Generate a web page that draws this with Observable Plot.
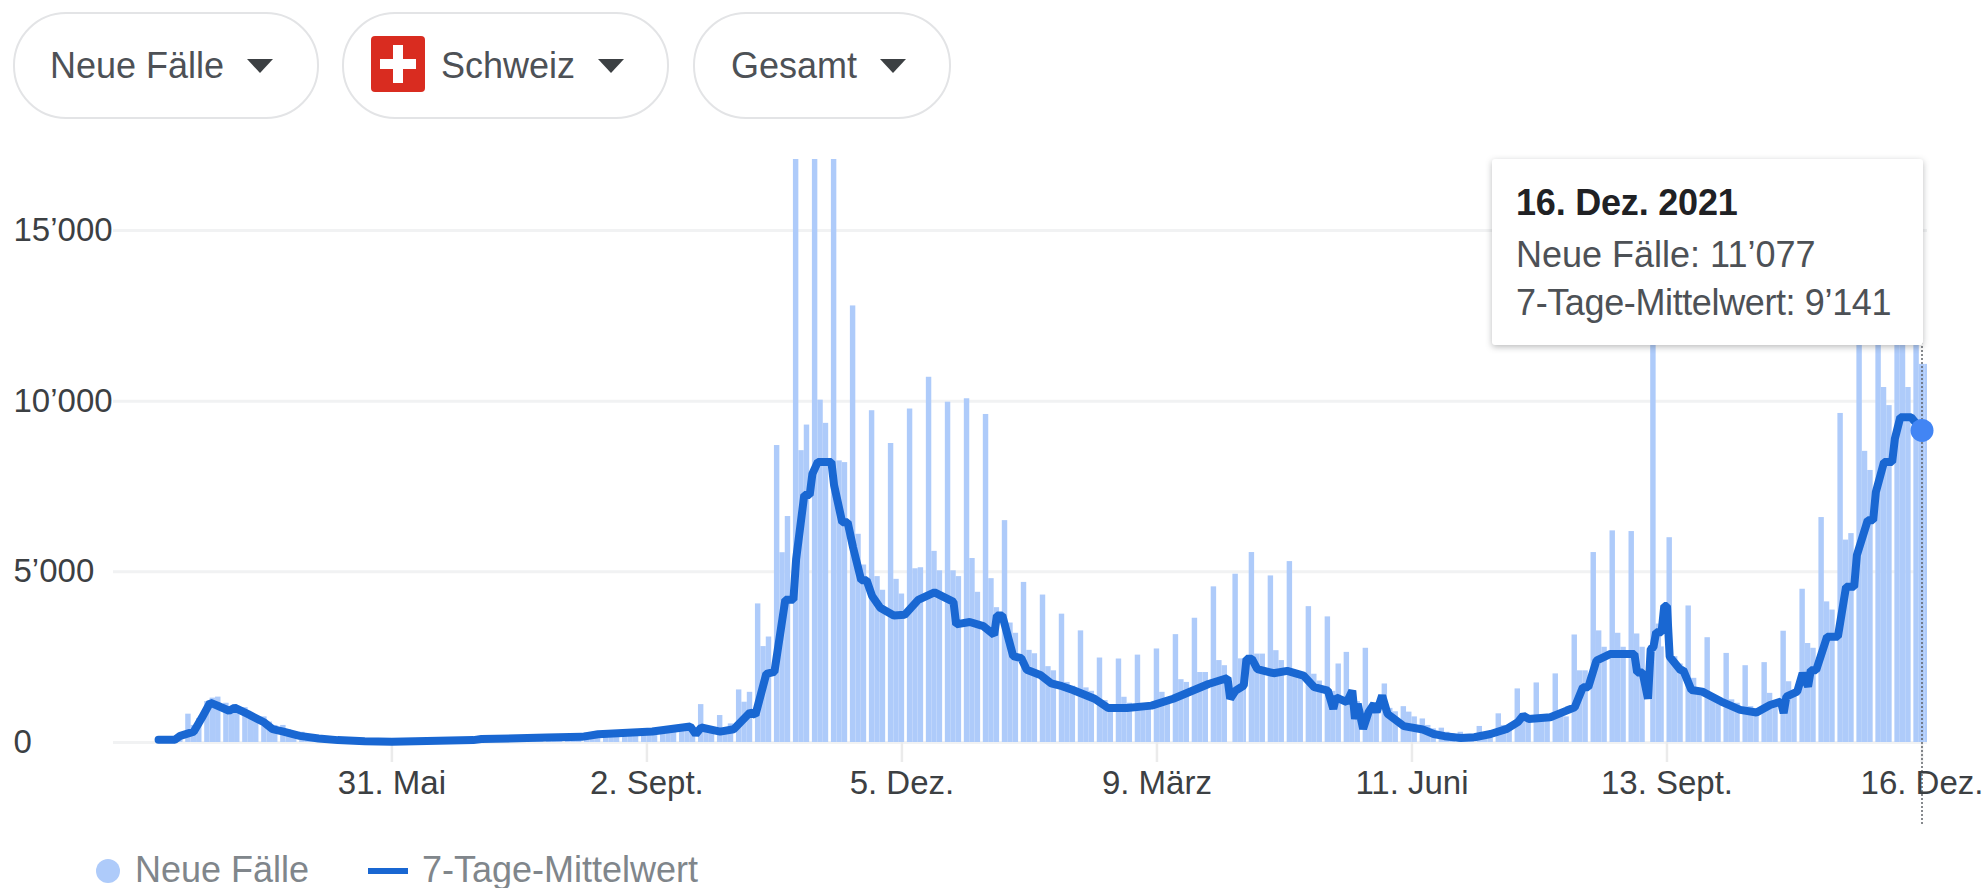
<!DOCTYPE html>
<html lang="de">
<head>
<meta charset="utf-8">
<script src="https://cdn.jsdelivr.net/npm/d3@7"></script>
<script src="https://cdn.jsdelivr.net/npm/@observablehq/plot@0.6"></script>
<style>
html,body{margin:0;padding:0;background:#fff;width:1986px;height:888px;overflow:hidden;font-family:"Liberation Sans",Arial,sans-serif;}
#chart{position:absolute;left:0;top:0;}
.pill{position:absolute;top:12px;height:103px;border:2px solid #e3e4e6;border-radius:53px;background:#fff;box-sizing:content-box;}
.pill span{position:absolute;top:0;line-height:103px;font-size:36px;color:#4d5156;white-space:nowrap;}
.arrow{position:absolute;top:45px;width:0;height:0;border-left:13px solid transparent;border-right:13px solid transparent;border-top:14px solid #3c4043;}
.flag{position:absolute;left:27px;top:22px;width:54px;height:56px;border-radius:4px;background:#d92c20;}
.flag i{position:absolute;background:#fff;}
#tip{position:absolute;left:1492px;top:159px;width:431px;height:186px;background:#fff;border-radius:3px;box-shadow:0 2px 6px rgba(60,64,67,.35);font-size:36px;color:#4d5156;}
#tip div{position:absolute;left:24px;white-space:nowrap;line-height:40px;}
#tip .h{top:24px;font-weight:bold;color:#202124;letter-spacing:-.2px;}
.leg{position:absolute;top:849px;line-height:42px;font-size:36px;color:#80868b;white-space:nowrap;}
.swdot{position:absolute;left:96px;top:859px;width:24px;height:24px;border-radius:50%;background:#aecbfa;}
.swline{position:absolute;left:368px;top:868px;width:40px;height:6px;background:#1967d2;}
</style>
</head>
<body>
<div id="chart"></div>
<div class="pill" style="left:13px;width:302px"><span style="left:35px">Neue Fälle</span><div class="arrow" style="left:232px"></div></div>
<div class="pill" style="left:342px;width:323px"><div class="flag"><i style="left:22px;top:9px;width:10px;height:38px"></i><i style="left:9px;top:23px;width:36px;height:10px"></i></div><span style="left:97px">Schweiz</span><div class="arrow" style="left:254px"></div></div>
<div class="pill" style="left:693px;width:254px"><span style="left:36px">Gesamt</span><div class="arrow" style="left:185px"></div></div>
<div id="tip"><div class="h">16. Dez. 2021</div><div style="top:76px">Neue Fälle: 11’077</div><div style="top:124px;letter-spacing:-.38px">7-Tage-Mittelwert: 9’141</div></div>
<div class="swdot"></div><div class="leg" style="left:135px">Neue Fälle</div>
<div class="swline"></div><div class="leg" style="left:422px">7-Tage-Mittelwert</div>
<script>
const tickDates = ["2020-05-31","2020-09-02","2020-12-05","2021-03-09","2021-06-11","2021-09-13","2021-12-16"];
const tickLabels = ["31. Mai","2. Sept.","5. Dez.","9. März","11. Juni","13. Sept.","16. Dez."];
const yTicks = [0,5000,10000,15000];
const yLabels = ["0","5’000","10’000","15’000"];

// Weekly blocks of daily new cases (one entry per week from 7 March 2020)
const weekPeak = [60,830,1200,1150,1020,750,500,300,200,130,80,60,50,40,30,35,60,80,120,150,170,230,280,330,380,400,420,450,1110,790,1540,4060,8700,21000,21000,21000,12790,9720,8760,9770,10700,9970,10070,9610,6500,4690,4320,3760,3270,2475,2446,2560,2740,3160,3640,4560,4930,5565,4880,5300,3980,3680,2640,2760,1715,1050,690,420,300,470,840,1570,1745,2010,3150,5565,6200,6180,13000,6000,4000,3070,2610,2250,2340,3260,4490,6590,9640,13000,13000,13500,13000];
const weekMidA = [100,500,1300,1050,750,600,370,220,150,90,50,30,20,15,10,20,30,50,80,100,120,170,220,270,300,300,330,380,350,280,1180,2810,5560,8550,10030,8250,6100,4860,4780,5090,5600,5030,5390,4800,3500,2700,2222,1760,1600,1230,1325,1130,1470,1840,2050,2400,2450,2590,2690,2100,2000,1500,1300,1000,1000,890,500,300,200,260,500,800,700,780,2100,3270,3200,3180,3470,2515,1880,1390,1250,1050,1440,1780,2900,4120,5930,8530,10400,13000,11077];
const weekMidB = [150,700,1330,950,650,500,300,190,120,70,40,20,15,10,15,20,35,60,90,110,130,180,230,280,320,300,350,400,300,545,1470,3090,6620,9300,9350,8200,5200,4460,4350,5120,5030,4860,4400,3950,3200,2600,2100,1650,1500,1100,1150,1120,1300,1760,2050,2250,2200,2590,2400,2000,1800,2300,1200,1000,900,750,400,250,180,280,450,700,700,750,2100,2790,2790,2790,2800,2300,1500,1300,1150,950,1200,1500,2760,3880,6120,7970,9870,10400,11077];
const lateWeeks = [56,78];

// 7-day mean: days since 6 March 2020 and value
const meanDay = [0,6,8,13,16,19,22,26,28,33,39,42,46,52,59,66,76,86,116,119,143,156,162,182,196,198,200,207,212,218,220,224,227,231,234,235,238,240,241,243,248,249,252,254,256,259,261,263,266,271,275,280,286,293,294,299,304,308,309,311,315,318,320,325,329,333,337,345,350,357,366,374,387,394,395,397,400,401,403,405,411,416,422,426,431,433,434,438,440,441,442,444,446,448,449,451,453,459,466,470,474,480,485,491,497,501,503,505,513,519,522,525,527,530,535,544,545,547,549,550,551,552,554,555,556,557,561,562,565,569,576,583,589,594,598,599,600,604,606,608,609,611,615,619,622,625,626,630,632,633,636,639,640,642,646,650];
const meanVal = [78,80,195,320,730,1170,1070,930,1020,830,585,390,320,195,117,70,40,20,70,100,146,165,240,320,470,245,440,320,390,880,810,2010,2070,4180,4180,5370,7250,7250,7870,8220,8220,7530,6450,6450,5710,4750,4750,4290,3950,3720,3740,4180,4400,4120,3460,3530,3410,3150,3720,3720,2530,2470,2130,1980,1730,1650,1540,1280,1010,1010,1080,1280,1715,1890,1280,1520,1670,2450,2450,2150,2030,2100,1960,1620,1520,985,1325,1180,1520,690,1130,400,890,1130,890,1375,840,480,380,250,185,130,155,250,400,595,790,690,740,935,1030,1620,1620,2400,2590,2590,2050,2050,1280,2740,2790,3230,3230,4000,4000,2510,2120,2120,1540,1490,1200,955,877,1100,1200,860,1345,1490,2030,1640,2120,2120,3100,3100,4560,4560,5490,6510,6510,7340,8220,8220,8900,9530,9530,9141];

const utc = s => new Date(s + "T00:00:00Z");
const addDays = (d, n) => d3.utcDay.offset(d, n);
const firstWeek = utc("2020-03-07");
const firstMean = utc("2020-03-06");

const rects = weekPeak.flatMap((p, w) => {
  const sat = addDays(firstWeek, 7 * w);
  const s = lateWeeks.includes(w) ? 1 : 0;
  return [
    {x1: addDays(sat, 2 + s), x2: addDays(sat, 4 + s), v: p},
    {x1: addDays(sat, 4 + s), x2: addDays(sat, 6 + s), v: weekMidA[w]},
    {x1: addDays(sat, 6 + s), x2: addDays(sat, 8), v: weekMidB[w]}
  ];
});
const mean = meanDay.map((d, i) => ({date: addDays(firstMean, d), v: meanVal[i]}));
const last = mean[mean.length - 1];
const ticks = tickDates.map(utc);

const chart = Plot.plot({
  width: 1986, height: 888,
  marginLeft: 113, marginRight: 59, marginTop: 159, marginBottom: 146,
  style: {fontFamily: '"Liberation Sans",Arial,sans-serif', background: "transparent"},
  x: {type: "utc", domain: [ticks[0], ticks[6]], range: [391.4, 1921.5]},
  y: {domain: [0, 17080]},
  marks: [
    Plot.ruleY(yTicks, {stroke: "#f1f2f3", strokeWidth: 3}),
    Plot.ruleX(ticks, {x: d => d, y1: 0, y2: -585, stroke: "#ebebeb", strokeWidth: 2.5}),
    Plot.rectY(rects, {x1: "x1", x2: "x2", y1: 0, y2: "v", fill: "#aecbfa", clip: true}),
    Plot.ruleX([last.date], {y1: -2400, y2: 17000, stroke: "#5f6368", strokeWidth: 1.5, strokeDasharray: "2,2"}),
    Plot.line(mean, {x: "date", y: "v", stroke: "#1967d2", strokeWidth: 8, curve: "linear", strokeLinejoin: "miter"}),
    Plot.dot([last], {x: "date", y: "v", r: 11.5, fill: "#4285f4"}),
    Plot.axisX({ticks, tickFormat: d => tickLabels[ticks.findIndex(t => +t === +d)], tickSize: 0, tickPadding: 28, fontSize: 33, fill: "#3c4043", label: null}),
    Plot.axisY({ticks: yTicks, tickFormat: d => yLabels[yTicks.indexOf(d)], tickSize: 0, tickPadding: 0, anchor: "left", textAnchor: "start", dx: -100, fontSize: 33, fill: "#3c4043", label: null})
  ]
});
document.getElementById("chart").appendChild(chart);
</script>
</body>
</html>
